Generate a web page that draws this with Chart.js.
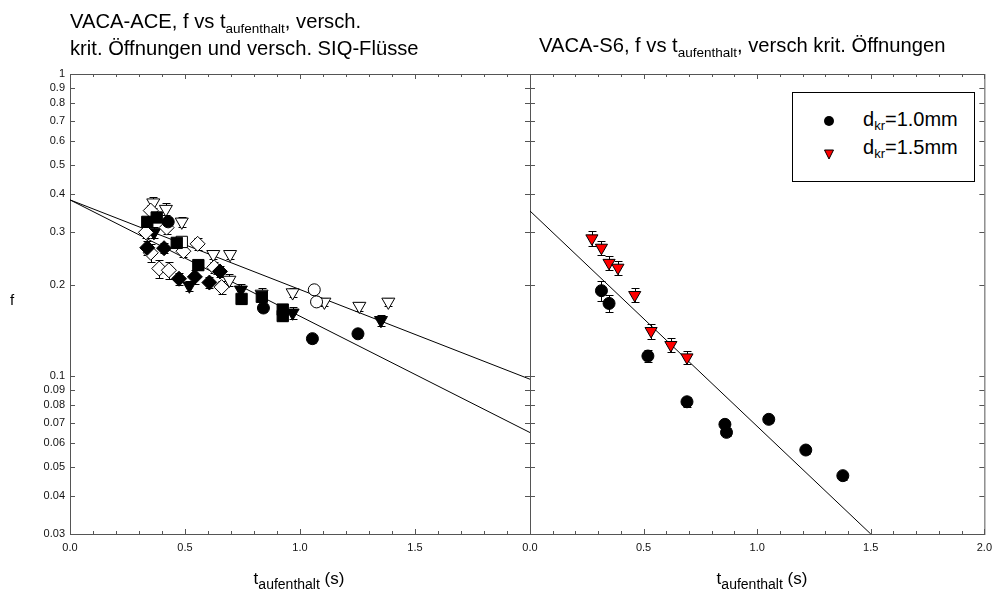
<!DOCTYPE html>
<html><head><meta charset="utf-8">
<script src="https://cdn.jsdelivr.net/npm/chart.js@4.4.1/dist/chart.umd.min.js"></script>
<style>
html,body{margin:0;padding:0;background:#fff;}
#wrap{position:relative;width:999px;height:594px;overflow:hidden;font-family:"Liberation Sans",Arial,sans-serif;color:#000;}
canvas{position:absolute;top:0;}
.t{position:absolute;white-space:nowrap;font-size:20.2px;line-height:20px;}
.t .sub{font-size:13.5px;position:relative;top:5px;}
.ax{position:absolute;white-space:nowrap;font-size:17px;line-height:20px;transform:translateX(-50%);}
.ax .sub{font-size:14px;position:relative;top:5px;}
#legend{position:absolute;left:792px;top:92px;width:181px;height:88px;border:1px solid #000;background:#fff;}
.lg{position:absolute;left:70px;font-size:20px;line-height:20px;white-space:nowrap;}
.lg .sub{font-size:13px;position:relative;top:4px;}
</style></head>
<body><div id="wrap">
<canvas id="c1" width="545" height="594" style="left:0px"></canvas>
<canvas id="c2" width="529" height="594" style="left:470px"></canvas>
<div class="t" style="left:70px;top:11px;">VACA-ACE, f vs t<span class="sub">aufenthalt</span>, versch.</div>
<div class="t" style="left:70px;top:38px;">krit. Öffnungen und versch. SIQ-Flüsse</div>
<div class="t" style="left:539px;top:35px;">VACA-S6, f vs t<span class="sub">aufenthalt</span>, versch krit. Öffnungen</div>
<div class="ax" style="left:10px;top:290px;transform:none;font-size:15px;">f</div>
<div class="ax" style="left:299px;top:569px;">t<span class="sub">aufenthalt</span> (s)</div>
<div class="ax" style="left:762px;top:569px;">t<span class="sub">aufenthalt</span> (s)</div>
<div id="legend">
  <svg style="position:absolute;left:29px;top:21px" width="14" height="14"><circle cx="7" cy="7" r="5" fill="#000"/></svg>
  <div class="lg" style="top:16px;">d<span class="sub">kr</span>=1.0mm</div>
  <svg style="position:absolute;left:29px;top:54px" width="14" height="14"><polygon points="2.5,3 11.5,3 7,12" fill="#ff0000" stroke="#000" stroke-width="1"/></svg>
  <div class="lg" style="top:44px;">d<span class="sub">kr</span>=1.5mm</div>
</div>
</div>
<script>
// ---------- tick values / labels ----------
const yTickValues = [0.03,0.04,0.05,0.06,0.07,0.08,0.09,0.1,0.2,0.3,0.4,0.5,0.6,0.7,0.8,0.9,1];
const yTickLabels = ['0.03','0.04','0.05','0.06','0.07','0.08','0.09','0.1','0.2','0.3','0.4','0.5','0.6','0.7','0.8','0.9','1'];
const xMajorTicks = [0,0.5,1,1.5,2];
const xMajorLabels = ['0.0','0.5','1.0','1.5','2.0'];
const xMinorTicks = [0.1,0.2,0.3,0.4,0.6,0.7,0.8,0.9,1.1,1.2,1.3,1.4,1.6,1.7,1.8,1.9];

// ---------- left panel: VACA-ACE ----------
const aceFilledCircleT = [0.427, 0.841, 1.054, 1.252];
const aceFilledCircleF = [0.324, 0.168, 0.133, 0.138];
const aceFilledCircleE = [0.010, 0.005, 0.004, 0.004];

const aceOpenCircleT = [1.062, 1.072];
const aceOpenCircleF = [0.193, 0.176];
const aceOpenCircleE = [0.004, 0.004];

const aceFilledSquareT = [0.336, 0.377, 0.464, 0.558, 0.746, 0.834, 0.925, 0.925];
const aceFilledSquareF = [0.324, 0.335, 0.276, 0.233, 0.180, 0.183, 0.166, 0.158];
const aceFilledSquareE = [0.012, 0.012, 0.010, 0.008, 0.007, 0.007, 0.006, 0.006];

const aceOpenSquareT = [0.486];
const aceOpenSquareF = [0.278];
const aceOpenSquareE = [0.010];

const aceFilledDiamondT = [0.336, 0.409, 0.474, 0.543, 0.606, 0.652];
const aceFilledDiamondF = [0.266, 0.265, 0.210, 0.213, 0.204, 0.222];
const aceFilledDiamondE = [0.014, 0.010, 0.010, 0.012, 0.008, 0.010];

const aceOpenDiamondT = [0.351, 0.420, 0.330, 0.351, 0.493, 0.555, 0.388, 0.430, 0.627, 0.659];
const aceOpenDiamondF = [0.353, 0.310, 0.299, 0.256, 0.259, 0.274, 0.227, 0.224, 0.229, 0.197];
const aceOpenDiamondE = [0.014, 0.015, 0.012, 0.018, 0.012, 0.012, 0.016, 0.014, 0.010, 0.010];

const aceFilledDownTriT = [0.365, 0.519, 0.743, 0.968, 1.352];
const aceFilledDownTriF = [0.299, 0.199, 0.193, 0.162, 0.153];
const aceFilledDownTriE = [0.012, 0.008, 0.008, 0.007, 0.006];

const aceOpenDownTriT = [0.362, 0.417, 0.486, 0.623, 0.696, 0.693, 0.833, 0.968, 1.106, 1.258, 1.384];
const aceOpenDownTriF = [0.375, 0.357, 0.324, 0.253, 0.253, 0.208, 0.187, 0.189, 0.176, 0.1705, 0.176];
const aceOpenDownTriE = [0.016, 0.016, 0.012, 0.008, 0.008, 0.010, 0.008, 0.006, 0.006, 0.006, 0.006];

// fit lines (left)
const aceFitUpperT = [0, 2.0];
const aceFitUpperF = [0.383, 0.0976];
const aceFitLowerT = [0, 2.0];
const aceFitLowerF = [0.383, 0.065];

// ---------- right panel: VACA-S6 ----------
const s6Dkr10T = [0.3145, 0.348, 0.519, 0.691, 0.858, 0.865, 1.051, 1.214, 1.377];
const s6Dkr10F = [0.1917, 0.174, 0.1165, 0.0822, 0.0692, 0.0651, 0.0719, 0.0569, 0.0468];
const s6Dkr10E = [0.014, 0.011, 0.0055, 0.003, 0.002, 0.002, 0.002, 0.0015, 0.0015];

const s6Dkr15T = [0.2725, 0.3145, 0.348, 0.387, 0.461, 0.533, 0.620, 0.691];
const s6Dkr15F = [0.2857, 0.266, 0.237, 0.2284, 0.1855, 0.141, 0.1267, 0.1153];
const s6Dkr15E = [0.017, 0.015, 0.013, 0.012, 0.010, 0.008, 0.007, 0.006];

const s6FitT = [0, 1.5];
const s6FitF = [0.352, 0.03];

// ---------- helpers ----------
const pts = (ts, fs) => ts.map((t, i) => ({x: t, y: fs[i]}));
const FONT = '"Liberation Sans", Arial, sans-serif';

function markerDs(label, ts, fs, es, style, fill, radius, rot) {
  return {
    type: 'scatter', label, data: pts(ts, fs), errors: es,
    pointStyle: style, pointRadius: radius, pointRotation: rot || 0,
    pointBackgroundColor: fill, pointBorderColor: '#000', pointBorderWidth: 1,
    pointHoverRadius: radius, order: 0
  };
}
function lineDs(ts, fs) {
  return {
    type: 'line', data: pts(ts, fs), showLine: true, pointRadius: 0,
    borderColor: '#000', borderWidth: 1, fill: false, order: 10, tension: 0
  };
}

function line(ctx, x1, y1, x2, y2) { ctx.beginPath(); ctx.moveTo(x1, y1); ctx.lineTo(x2, y2); ctx.stroke(); }

const framePlugin = {
  id: 'frame',
  beforeDatasetsDraw(chart) {
    const {ctx, chartArea: a, scales: {x, y}} = chart;
    ctx.save();
    ctx.strokeStyle = '#555';
    ctx.lineWidth = 1;
    ctx.strokeRect(a.left + 0.5, a.top + 0.5, a.right - a.left, a.bottom - a.top);
    xMajorTicks.forEach(v => {
      const px = Math.round(x.getPixelForValue(v)) + 0.5;
      line(ctx, px, a.bottom, px, a.bottom - 5);
      line(ctx, px, a.top, px, a.top + 5);
    });
    xMinorTicks.forEach(v => {
      const px = Math.round(x.getPixelForValue(v)) + 0.5;
      line(ctx, px, a.bottom, px, a.bottom - 3);
      line(ctx, px, a.top, px, a.top + 3);
    });
    yTickValues.forEach(v => {
      const py = Math.round(y.getPixelForValue(v)) + 0.5;
      line(ctx, a.left, py, a.left + 5, py);
      line(ctx, a.right, py, a.right - 5, py);
    });
    ctx.restore();
  }
};

const errPlugin = {
  id: 'errbars',
  beforeDatasetsDraw(chart) {
    const {ctx, scales: {x, y}} = chart;
    ctx.save();
    ctx.strokeStyle = '#000';
    ctx.lineWidth = 1;
    chart.data.datasets.forEach(ds => {
      if (!ds.errors) return;
      ds.data.forEach((p, i) => {
        const e = ds.errors[i];
        if (!e) return;
        const px = Math.round(x.getPixelForValue(p.x)) + 0.5;
        const y1 = Math.round(y.getPixelForValue(p.y + e)) + 0.5;
        const y2 = Math.round(y.getPixelForValue(p.y - e)) + 0.5;
        line(ctx, px, y1, px, y2);
        line(ctx, px - 4, y1, px + 4, y1);
        line(ctx, px - 4, y2, px + 4, y2);
      });
    });
    ctx.restore();
  }
};

function makeOptions(showYLabels, yWidth, padRight, hideLastX) {
  return {
    responsive: false, animation: false, devicePixelRatio: 1,
    layout: {padding: {top: 74, right: padRight, left: 0, bottom: 0}},
    plugins: {legend: {display: false}, tooltip: {enabled: false}},
    scales: {
      x: {
        type: 'linear', min: 0, max: 2,
        afterFit(s) { s.height = 60; },
        afterBuildTicks(s) { s.ticks = xMajorTicks.map(v => ({value: v})); },
        ticks: {
          autoSkip: false, maxRotation: 0, padding: 7, color: '#111',
          font: {family: FONT, size: 11},
          callback(v) {
            const i = xMajorTicks.indexOf(v);
            if (hideLastX && i === xMajorTicks.length - 1) return '';
            return i >= 0 ? xMajorLabels[i] : '';
          }
        },
        grid: {display: false, drawTicks: false, tickLength: 0}, border: {display: false}
      },
      y: {
        type: 'logarithmic', min: 0.03, max: 1,
        afterFit(s) { s.width = yWidth; },
        afterBuildTicks(s) { s.ticks = yTickValues.map(v => ({value: v})); },
        ticks: {
          display: showYLabels, autoSkip: false, padding: 5, color: '#111',
          font: {family: FONT, size: 11},
          callback(v) { const i = yTickValues.indexOf(v); return i >= 0 ? yTickLabels[i] : ''; }
        },
        grid: {display: false, drawTicks: false, tickLength: 0}, border: {display: false}
      }
    }
  };
}

new Chart(document.getElementById('c1'), {
  type: 'scatter',
  data: {datasets: [
    markerDs('filled circle', aceFilledCircleT, aceFilledCircleF, aceFilledCircleE, 'circle', '#000', 6),
    markerDs('open circle', aceOpenCircleT, aceOpenCircleF, aceOpenCircleE, 'circle', '#fff', 6),
    markerDs('filled square', aceFilledSquareT, aceFilledSquareF, aceFilledSquareE, 'rect', '#000', 8),
    markerDs('open square', aceOpenSquareT, aceOpenSquareF, aceOpenSquareE, 'rect', '#fff', 8),
    markerDs('filled diamond', aceFilledDiamondT, aceFilledDiamondF, aceFilledDiamondE, 'rectRot', '#000', 7.5),
    markerDs('open diamond', aceOpenDiamondT, aceOpenDiamondF, aceOpenDiamondE, 'rectRot', '#fff', 7.5),
    markerDs('filled down-triangle', aceFilledDownTriT, aceFilledDownTriF, aceFilledDownTriE, 'triangle', '#000', 7.5, 180),
    markerDs('open down-triangle', aceOpenDownTriT, aceOpenDownTriF, aceOpenDownTriE, 'triangle', '#fff', 7.5, 180),
    lineDs(aceFitUpperT, aceFitUpperF),
    lineDs(aceFitLowerT, aceFitLowerF)
  ]},
  options: makeOptions(true, 70, 15, true),
  plugins: [framePlugin, errPlugin]
});

new Chart(document.getElementById('c2'), {
  type: 'scatter',
  data: {datasets: [
    markerDs('dkr=1.0mm', s6Dkr10T, s6Dkr10F, s6Dkr10E, 'circle', '#000', 6),
    markerDs('dkr=1.5mm', s6Dkr15T, s6Dkr15F, s6Dkr15E, 'triangle', '#ff0000', 7, 180),
    lineDs(s6FitT, s6FitF)
  ]},
  options: makeOptions(false, 60, 9, false),
  plugins: [framePlugin, errPlugin]
});
</script>
</body></html>
